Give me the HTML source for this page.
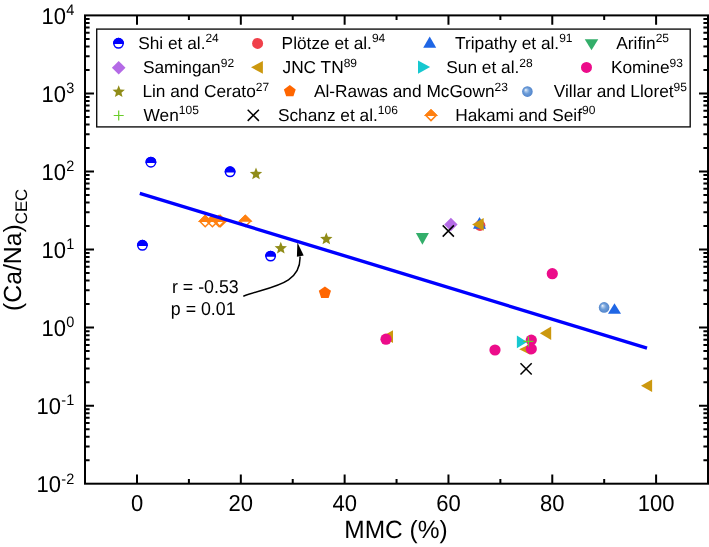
<!DOCTYPE html><html><head><meta charset="utf-8"><style>html,body{margin:0;padding:0;background:#fff;width:709px;height:547px;overflow:hidden}text{font-family:"Liberation Sans",sans-serif;text-rendering:geometricPrecision}</style></head><body><svg width="709" height="547" viewBox="0 0 709 547" style="display:block;will-change:transform">
<defs><radialGradient id="sph" cx="0.5" cy="0.5" r="0.5" fx="0.33" fy="0.33"><stop offset="0" stop-color="#F4F8FD"/><stop offset="0.25" stop-color="#A9C6EA"/><stop offset="0.55" stop-color="#6D9DD8"/><stop offset="1" stop-color="#5285CC"/></radialGradient></defs>
<rect width="709" height="547" fill="#fff"/>
<polygon points="205.20,215.66 210.74,221.20 205.20,226.74 199.66,221.20" fill="none" stroke="#FF8010" stroke-width="1.5" stroke-linejoin="miter"/><polygon points="205.20,215.66 210.74,221.20 199.66,221.20" fill="#FF8010" stroke="#FF8010" stroke-width="1.5"/>
<polygon points="212.40,215.66 217.94,221.20 212.40,226.74 206.86,221.20" fill="none" stroke="#FF8010" stroke-width="1.5" stroke-linejoin="miter"/><polygon points="212.40,215.66 217.94,221.20 206.86,221.20" fill="#FF8010" stroke="#FF8010" stroke-width="1.5"/>
<polygon points="219.10,215.66 224.64,221.20 219.10,226.74 213.56,221.20" fill="none" stroke="#FF8010" stroke-width="1.5" stroke-linejoin="miter"/><polygon points="219.10,215.66 224.64,221.20 213.56,221.20" fill="#FF8010" stroke="#FF8010" stroke-width="1.5"/>
<polygon points="220.40,215.66 225.94,221.20 220.40,226.74 214.86,221.20" fill="none" stroke="#FF8010" stroke-width="1.5" stroke-linejoin="miter"/><polygon points="220.40,215.66 225.94,221.20 214.86,221.20" fill="#FF8010" stroke="#FF8010" stroke-width="1.5"/>
<polygon points="245.30,215.46 250.84,221.00 245.30,226.54 239.76,221.00" fill="none" stroke="#FF8010" stroke-width="1.5" stroke-linejoin="miter"/><polygon points="245.30,215.46 250.84,221.00 239.76,221.00" fill="#FF8010" stroke="#FF8010" stroke-width="1.5"/>
<circle cx="142.4" cy="245.3" r="4.7" fill="#fff" stroke="#0000FF" stroke-width="1.5"/><path d="M137.70000000000002,245.3 A4.7,4.7 0 0 1 147.1,245.3 Z" fill="#0000FF" stroke="#0000FF" stroke-width="1.5"/>
<circle cx="150.9" cy="162.2" r="4.7" fill="#fff" stroke="#0000FF" stroke-width="1.5"/><path d="M146.20000000000002,162.2 A4.7,4.7 0 0 1 155.6,162.2 Z" fill="#0000FF" stroke="#0000FF" stroke-width="1.5"/>
<circle cx="230.1" cy="171.8" r="4.7" fill="#fff" stroke="#0000FF" stroke-width="1.5"/><path d="M225.4,171.8 A4.7,4.7 0 0 1 234.79999999999998,171.8 Z" fill="#0000FF" stroke="#0000FF" stroke-width="1.5"/>
<circle cx="270.6" cy="256.1" r="4.7" fill="#fff" stroke="#0000FF" stroke-width="1.5"/><path d="M265.90000000000003,256.1 A4.7,4.7 0 0 1 275.3,256.1 Z" fill="#0000FF" stroke="#0000FF" stroke-width="1.5"/>
<polygon points="256.00,167.60 257.68,171.79 262.18,172.09 258.72,174.98 259.82,179.36 256.00,176.96 252.18,179.36 253.28,174.98 249.82,172.09 254.32,171.79" fill="#908C18"/>
<polygon points="280.80,241.80 282.48,245.99 286.98,246.29 283.52,249.18 284.62,253.56 280.80,251.16 276.98,253.56 278.08,249.18 274.62,246.29 279.12,245.99" fill="#908C18"/>
<polygon points="326.30,232.60 327.98,236.79 332.48,237.09 329.02,239.98 330.12,244.36 326.30,241.96 322.48,244.36 323.58,239.98 320.12,237.09 324.62,236.79" fill="#908C18"/>
<polygon points="324.90,286.40 330.99,290.82 328.66,297.98 321.14,297.98 318.81,290.82" fill="#FF6600"/>
<polygon points="415.90,232.90 428.90,232.90 422.40,244.70" fill="#33AE6A"/>
<polygon points="450.90,217.80 457.60,224.50 450.90,231.20 444.20,224.50" fill="#B46AE6"/>
<path d="M442.7,225.4L453.90000000000003,236.6M453.90000000000003,225.4L442.7,236.6" stroke="#000" stroke-width="1.5" fill="none"/>
<circle cx="480" cy="225.5" r="5.4" fill="#F0404A"/>
<polygon points="479.50,217.10 486.00,228.70 473.00,228.70" fill="#1F66E5"/>
<polygon points="472.10,224.40 483.70,218.00 483.70,230.80" fill="#CC980E"/>
<polygon points="382.00,336.60 393.00,330.20 393.00,343.00" fill="#CC980E"/>
<polygon points="519.20,349.35 530.30,343.90 530.30,354.80" fill="#CC980E"/>
<polygon points="539.90,333.35 551.20,326.60 551.20,340.10" fill="#CC980E"/>
<polygon points="641.00,385.80 652.10,379.50 652.10,392.10" fill="#CC980E"/>
<circle cx="386" cy="339.2" r="5.6" fill="#EC0C8A"/>
<circle cx="495" cy="350" r="5.6" fill="#EC0C8A"/>
<circle cx="531.3" cy="348.9" r="5.6" fill="#EC0C8A"/>
<polygon points="516.90,335.60 527.10,341.90 516.90,348.20" fill="#16C8D0"/>
<circle cx="531.3" cy="340.1" r="5.6" fill="#EC0C8A"/>
<circle cx="552.3" cy="273.7" r="5.6" fill="#EC0C8A"/>
<path d="M523.4,341.4L533.4,341.4M528.4,336.4L528.4,346.4" stroke="#6ACD2A" stroke-width="1.2" fill="none"/>
<path d="M520.5,363.29999999999995L531.7,374.5M531.7,363.29999999999995L520.5,374.5" stroke="#000" stroke-width="1.5" fill="none"/>
<circle cx="604.1" cy="307.4" r="5.3" fill="url(#sph)"/>
<polygon points="614.50,303.30 621.00,313.80 608.00,313.80" fill="#1F66E5"/>
<line x1="139.8" y1="193.3" x2="647" y2="348.1" stroke="#0000FF" stroke-width="3.4"/>
<path d="M243.3,296.2 C268.9,286.6 301.3,285.4 300.0,256.5" fill="none" stroke="#000" stroke-width="1.5"/>
<polygon points="297.40,242.60 296.90,256.70 303.70,255.50" fill="#000"/>
<text transform="translate(172.00,292.60) scale(1,1.045)" font-size="17.8" fill="#000">r = -0.53</text>
<text transform="translate(170.80,315.10) scale(1,1.045)" font-size="17.8" fill="#000">p = 0.01</text>
<rect x="85" y="15.4" width="623" height="468.3" fill="none" stroke="#000" stroke-width="2"/><path d="M137.00,483.7v-9.3M137.00,15.4v9.3M188.91,483.7v-4.6M188.91,15.4v4.6M240.82,483.7v-9.3M240.82,15.4v9.3M292.73,483.7v-4.6M292.73,15.4v4.6M344.64,483.7v-9.3M344.64,15.4v9.3M396.55,483.7v-4.6M396.55,15.4v4.6M448.46,483.7v-9.3M448.46,15.4v9.3M500.37,483.7v-4.6M500.37,15.4v4.6M552.28,483.7v-9.3M552.28,15.4v9.3M604.19,483.7v-4.6M604.19,15.4v4.6M656.10,483.7v-9.3M656.10,15.4v9.3M85,460.20h4.6M708,460.20h-4.6M85,446.46h4.6M708,446.46h-4.6M85,436.71h4.6M708,436.71h-4.6M85,429.15h4.6M708,429.15h-4.6M85,422.97h4.6M708,422.97h-4.6M85,417.74h4.6M708,417.74h-4.6M85,413.21h4.6M708,413.21h-4.6M85,409.22h4.6M708,409.22h-4.6M85,405.65h9.0M708,405.65h-9.0M85,382.15h4.6M708,382.15h-4.6M85,368.41h4.6M708,368.41h-4.6M85,358.66h4.6M708,358.66h-4.6M85,351.10h4.6M708,351.10h-4.6M85,344.92h4.6M708,344.92h-4.6M85,339.69h4.6M708,339.69h-4.6M85,335.16h4.6M708,335.16h-4.6M85,331.17h4.6M708,331.17h-4.6M85,327.60h9.0M708,327.60h-9.0M85,304.10h4.6M708,304.10h-4.6M85,290.36h4.6M708,290.36h-4.6M85,280.61h4.6M708,280.61h-4.6M85,273.05h4.6M708,273.05h-4.6M85,266.87h4.6M708,266.87h-4.6M85,261.64h4.6M708,261.64h-4.6M85,257.11h4.6M708,257.11h-4.6M85,253.12h4.6M708,253.12h-4.6M85,249.55h9.0M708,249.55h-9.0M85,226.05h4.6M708,226.05h-4.6M85,212.31h4.6M708,212.31h-4.6M85,202.56h4.6M708,202.56h-4.6M85,195.00h4.6M708,195.00h-4.6M85,188.82h4.6M708,188.82h-4.6M85,183.59h4.6M708,183.59h-4.6M85,179.06h4.6M708,179.06h-4.6M85,175.07h4.6M708,175.07h-4.6M85,171.50h9.0M708,171.50h-9.0M85,148.00h4.6M708,148.00h-4.6M85,134.26h4.6M708,134.26h-4.6M85,124.51h4.6M708,124.51h-4.6M85,116.95h4.6M708,116.95h-4.6M85,110.77h4.6M708,110.77h-4.6M85,105.54h4.6M708,105.54h-4.6M85,101.01h4.6M708,101.01h-4.6M85,97.02h4.6M708,97.02h-4.6M85,93.45h9.0M708,93.45h-9.0M85,69.95h4.6M708,69.95h-4.6M85,56.21h4.6M708,56.21h-4.6M85,46.46h4.6M708,46.46h-4.6M85,38.90h4.6M708,38.90h-4.6M85,32.72h4.6M708,32.72h-4.6M85,27.49h4.6M708,27.49h-4.6M85,22.96h4.6M708,22.96h-4.6M85,18.97h4.6M708,18.97h-4.6" stroke="#000" stroke-width="2" fill="none"/>
<text transform="translate(137.00,510.90) scale(1,1.045)" font-size="22" text-anchor="middle" fill="#000">0</text>
<text transform="translate(240.82,510.90) scale(1,1.045)" font-size="22" text-anchor="middle" fill="#000">20</text>
<text transform="translate(344.64,510.90) scale(1,1.045)" font-size="22" text-anchor="middle" fill="#000">40</text>
<text transform="translate(448.46,510.90) scale(1,1.045)" font-size="22" text-anchor="middle" fill="#000">60</text>
<text transform="translate(552.28,510.90) scale(1,1.045)" font-size="22" text-anchor="middle" fill="#000">80</text>
<text transform="translate(656.10,510.90) scale(1,1.045)" font-size="22" text-anchor="middle" fill="#000">100</text>
<text transform="translate(61.00,492.00) scale(1,1.045)" font-size="22" text-anchor="end" fill="#000">10</text>
<text transform="translate(61.30,483.50) scale(1,1.045)" font-size="14.5" fill="#000">-2</text>
<text transform="translate(61.00,413.95) scale(1,1.045)" font-size="22" text-anchor="end" fill="#000">10</text>
<text transform="translate(61.30,405.45) scale(1,1.045)" font-size="14.5" fill="#000">-1</text>
<text transform="translate(66.00,335.90) scale(1,1.045)" font-size="22" text-anchor="end" fill="#000">10</text>
<text transform="translate(66.30,327.40) scale(1,1.045)" font-size="14.5" fill="#000">0</text>
<text transform="translate(66.00,257.85) scale(1,1.045)" font-size="22" text-anchor="end" fill="#000">10</text>
<text transform="translate(66.30,249.35) scale(1,1.045)" font-size="14.5" fill="#000">1</text>
<text transform="translate(66.00,179.80) scale(1,1.045)" font-size="22" text-anchor="end" fill="#000">10</text>
<text transform="translate(66.30,171.30) scale(1,1.045)" font-size="14.5" fill="#000">2</text>
<text transform="translate(66.00,101.75) scale(1,1.045)" font-size="22" text-anchor="end" fill="#000">10</text>
<text transform="translate(66.30,93.25) scale(1,1.045)" font-size="14.5" fill="#000">3</text>
<text transform="translate(66.00,23.70) scale(1,1.045)" font-size="22" text-anchor="end" fill="#000">10</text>
<text transform="translate(66.30,15.20) scale(1,1.045)" font-size="14.5" fill="#000">4</text>
<text transform="translate(396.00,538.10) scale(1,1.02)" font-size="24.5" text-anchor="middle" fill="#000">MMC (%)</text>
<g transform="translate(21.0,311.0) rotate(-90)"><text transform="translate(0.00,0.00) scale(1,1.0)" font-size="24.8" fill="#000">(Ca/Na)<tspan font-size="16.8" dy="5.6">CEC</tspan></text></g>
<rect x="96.7" y="29.1" width="593.5" height="97.8" fill="#fff" stroke="#111" stroke-width="1.4"/>
<circle cx="118.5" cy="43.3" r="4.7" fill="#fff" stroke="#0000FF" stroke-width="1.5"/><path d="M113.8,43.3 A4.7,4.7 0 0 1 123.2,43.3 Z" fill="#0000FF" stroke="#0000FF" stroke-width="1.5"/>
<text transform="translate(138.20,48.70) scale(1,1.0)" font-size="17.3" fill="#000">Shi et al.<tspan font-size="12" dy="-6.5">24</tspan></text>
<circle cx="257.6" cy="43.4" r="5.5" fill="#F0404A"/>
<text transform="translate(281.60,48.70) scale(1,1.0)" font-size="17.3" fill="#000">Plötze et al.<tspan font-size="12" dy="-6.5">94</tspan></text>
<polygon points="429.70,36.60 436.20,47.80 423.20,47.80" fill="#1F66E5"/>
<text transform="translate(455.10,48.70) scale(1,1.0)" font-size="17.3" fill="#000">Tripathy et al.<tspan font-size="12" dy="-6.5">91</tspan></text>
<polygon points="584.75,39.30 598.25,39.30 591.50,50.20" fill="#33AE6A"/>
<text transform="translate(616.30,48.70) scale(1,1.0)" font-size="17.3" fill="#000">Arifin<tspan font-size="12" dy="-6.5">25</tspan></text>
<polygon points="118.70,61.00 125.50,67.80 118.70,74.60 111.90,67.80" fill="#B46AE6"/>
<text transform="translate(142.90,73.30) scale(1,1.0)" font-size="17.3" fill="#000">Samingan<tspan font-size="12" dy="-6.5">92</tspan></text>
<polygon points="251.00,67.35 262.90,60.90 262.90,73.80" fill="#CC980E"/>
<text transform="translate(282.50,73.30) scale(1,1.0)" font-size="17.3" fill="#000">JNC TN<tspan font-size="12" dy="-6.5">89</tspan></text>
<polygon points="418.00,60.50 430.10,67.10 418.00,73.70" fill="#16C8D0"/>
<text transform="translate(446.30,73.30) scale(1,1.0)" font-size="17.3" fill="#000">Sun et al.<tspan font-size="12" dy="-6.5">28</tspan></text>
<circle cx="586.5" cy="67.4" r="5.5" fill="#EC0C8A"/>
<text transform="translate(610.90,73.30) scale(1,1.0)" font-size="17.3" fill="#000">Komine<tspan font-size="12" dy="-6.5">93</tspan></text>
<polygon points="118.70,85.30 120.38,89.49 124.88,89.79 121.42,92.68 122.52,97.06 118.70,94.66 114.88,97.06 115.98,92.68 112.52,89.79 117.02,89.49" fill="#908C18"/>
<text transform="translate(142.40,97.30) scale(1,1.0)" font-size="17.3" fill="#000">Lin and Cerato<tspan font-size="12" dy="-6.5">27</tspan></text>
<polygon points="289.80,85.10 295.70,89.38 293.44,96.32 286.16,96.32 283.90,89.38" fill="#FF6600"/>
<text transform="translate(314.00,97.30) scale(1,1.0)" font-size="17.3" fill="#000">Al-Rawas and McGown<tspan font-size="12" dy="-6.5">23</tspan></text>
<circle cx="527.4" cy="91.6" r="5.3" fill="url(#sph)"/>
<text transform="translate(553.80,97.30) scale(1,1.0)" font-size="17.3" fill="#000">Villar and Lloret<tspan font-size="12" dy="-6.5">95</tspan></text>
<path d="M113.7,115.5L123.7,115.5M118.7,110.5L118.7,120.5" stroke="#6ACD2A" stroke-width="1.2" fill="none"/>
<text transform="translate(143.60,120.90) scale(1,1.0)" font-size="17.3" fill="#000">Wen<tspan font-size="12" dy="-6.5">105</tspan></text>
<path d="M247.70000000000002,109.7L258.90000000000003,120.89999999999999M258.90000000000003,109.7L247.70000000000002,120.89999999999999" stroke="#000" stroke-width="1.5" fill="none"/>
<text transform="translate(277.90,120.90) scale(1,1.0)" font-size="17.3" fill="#000">Schanz et al.<tspan font-size="12" dy="-6.5">106</tspan></text>
<polygon points="431.00,109.96 436.34,115.30 431.00,120.64 425.66,115.30" fill="none" stroke="#FF8010" stroke-width="1.5" stroke-linejoin="miter"/><polygon points="431.00,109.96 436.34,115.30 425.66,115.30" fill="#FF8010" stroke="#FF8010" stroke-width="1.5"/>
<text transform="translate(455.20,120.90) scale(1,1.0)" font-size="17.3" fill="#000">Hakami and Seif<tspan font-size="12" dy="-6.5">90</tspan></text>
</svg></body></html>
